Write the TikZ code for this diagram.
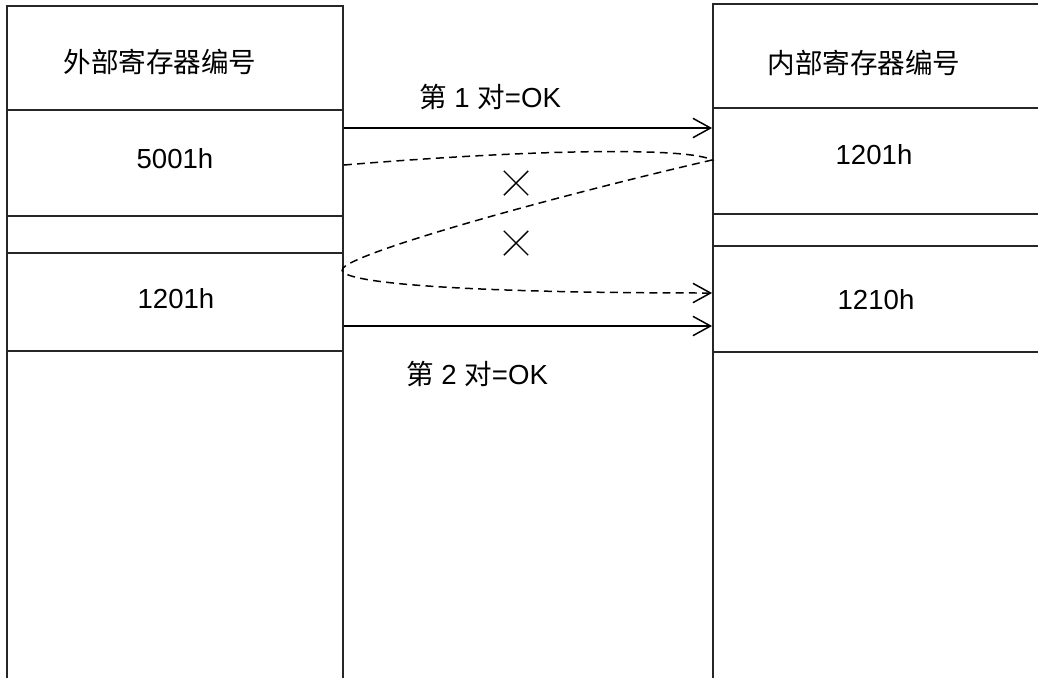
\documentclass[tikz,border=0pt]{standalone}
\usepackage{fontspec}
\setmainfont{Liberation Sans}
\newfontfamily\cjk{Noto Sans CJK SC}
\usetikzlibrary{arrows.meta,shapes.misc}

\begin{document}
\begin{tikzpicture}[x=0.02cm,y=-0.02cm,font=\fontsize{15.7}{18}\selectfont,
  cell/.style={draw=black!85,line width=1.1pt,rectangle,inner sep=0pt},
  txt/.style={inner sep=0pt,anchor=center},
  okarrow/.style={line width=0.85pt,-{Straight Barb[length=10pt,width=11pt]}},
  badarrow/.style={okarrow,dash pattern=on 4.5pt off 3pt},
  nomark/.style={cross out,draw,line width=0.8pt,minimum size=0.46cm,inner sep=0pt}]
  \useasboundingbox (0,0) rectangle (1038,677);
  \clip (0,0) rectangle (1038,677);
  % external registers (left)
  \node[cell,minimum width=6.72cm,minimum height=2.08cm] (hdrL) at (175,58) {};
  \node[cell,minimum width=6.72cm,minimum height=2.12cm] (regL1) at (175,163) {};
  \node[cell,minimum width=6.72cm,minimum height=0.74cm] (gapL) at (175,234.5) {};
  \node[cell,minimum width=6.72cm,minimum height=1.96cm] (regL2) at (175,302) {};
  \node[cell,minimum width=6.72cm,minimum height=7.2cm] (restL) at (175,531) {};
  % internal registers (right)
  \node[cell,minimum width=6.6cm,minimum height=2.08cm] (hdrR) at (878,56) {};
  \node[cell,minimum width=6.6cm,minimum height=2.12cm] (regR1) at (878,161) {};
  \node[cell,minimum width=6.6cm,minimum height=0.64cm] (gapR) at (878,230) {};
  \node[cell,minimum width=6.6cm,minimum height=2.12cm] (regR2) at (878,299) {};
  \node[cell,minimum width=6.6cm,minimum height=7.2cm] (restR) at (878,532) {};
  % texts
  \node[txt] (tL) at (160,62) {\cjk 外部寄存器编号};
  \node[txt] (tR) at (864,63) {\cjk 内部寄存器编号};
  \node[txt] (vL1) at (175,159) {5001h};
  \node[txt] (vL2) at (176,299) {1201h};
  \node[txt] (vR1) at (874,155) {1201h};
  \node[txt] (vR2) at (876,300) {1210h};
  \node[txt] (ok1) at (490,97) {{\cjk 第} 1 {\cjk 对}=OK};
  \node[txt] (ok2) at (477,374) {{\cjk 第} 2 {\cjk 对}=OK};
  % pairs
  \draw[okarrow] (regL1.east |- 0,128) -- (regR1.west |- 0,128);
  \draw[okarrow] (regL2.east |- 0,326) -- (regR2.west |- 0,326);
  \draw[badarrow] (regL1.east |- 0,165) .. controls (550,148) and (690,148) .. (regR1.west |- 0,160)
    .. controls (560,195) and (360,250) .. (343,268)
    .. controls (330,282) and (450,293) .. (regR2.west |- 0,293);
  \node[nomark] (xa) at (516,183) {};
  \node[nomark] (xb) at (516,243) {};
\end{tikzpicture}
\end{document}
